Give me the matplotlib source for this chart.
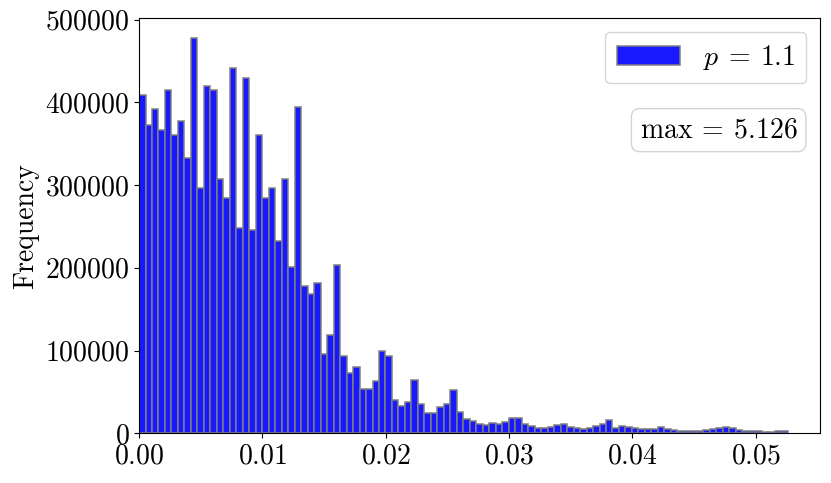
import numpy as np
import matplotlib
matplotlib.use("Agg")
import matplotlib.pyplot as plt

plt.rcParams["font.family"] = "serif"
plt.rcParams["font.serif"] = ["cmr10", "DejaVu Serif"]
plt.rcParams["mathtext.fontset"] = "cm"
plt.rcParams["axes.formatter.use_mathtext"] = True
plt.rcParams["axes.unicode_minus"] = False

# histogram: 100 bins from 0 to the maximum value
x_max = 0.0526
n_bins = 100
counts = [
    409e3, 372e3, 392e3, 367e3, 415e3, 360e3, 377e3, 333e3, 478e3, 297e3,
    420e3, 415e3, 307e3, 284e3, 441e3, 248e3, 430e3, 246e3, 361e3, 284e3,
    297e3, 233e3, 307e3, 201e3, 394e3, 178e3, 168e3, 182e3, 96e3, 119e3,
    203e3, 93e3, 73e3, 80e3, 53e3, 53e3, 63e3, 100e3, 94e3, 40e3,
    33e3, 38e3, 65e3, 36e3, 24e3, 25e3, 32e3, 36e3, 52e3, 26e3,
    17e3, 15e3, 11e3, 10e3, 13e3, 11e3, 14e3, 18e3, 18e3, 11e3,
    8.5e3, 6.5e3, 6.5e3, 8e3, 9.7e3, 11.3e3, 7.7e3, 6.1e3, 5.7e3, 6.9e3,
    8.5e3, 11.7e3, 15.8e3, 6.1e3, 8.9e3, 7.7e3, 6.5e3, 5.5e3, 5.5e3, 5.3e3,
    7.3e3, 5.3e3, 3.6e3, 2.4e3, 2.8e3, 3.2e3, 3.2e3, 3.6e3, 4.8e3, 6.5e3,
    7.7e3, 6.1e3, 4.0e3, 3.2e3, 2.4e3, 2.4e3, 2.0e3, 2.0e3, 3.2e3, 3.2e3,
]
p_value = 1.1
max_label = "5.126"

edges = np.linspace(0, x_max, n_bins + 1)
centers = 0.5 * (edges[:-1] + edges[1:])

fig = plt.figure(figsize=(8.31, 4.83), dpi=100)
ax = fig.add_axes([0.1673, 0.1029, 0.8195, 0.8598])

ax.hist(centers, bins=edges, weights=counts, color="blue", alpha=0.9,
        edgecolor="gray", linewidth=1.2, label=r"$p\:=\:%s$" % p_value)
ax.set_xlim(left=0)

ax.set_ylabel("Frequency", fontsize=20)
ax.tick_params(labelsize=20)

ax.legend(loc="upper right", fontsize=20, handlelength=2.3)
ax.text(0.967, 0.73, r"$\max\:=\:%s$" % max_label, transform=ax.transAxes,
        ha="right", va="center", fontsize=20,
        bbox=dict(boxstyle="round", facecolor="white", edgecolor="lightgray"))

fig.savefig("out.png", dpi=100)
